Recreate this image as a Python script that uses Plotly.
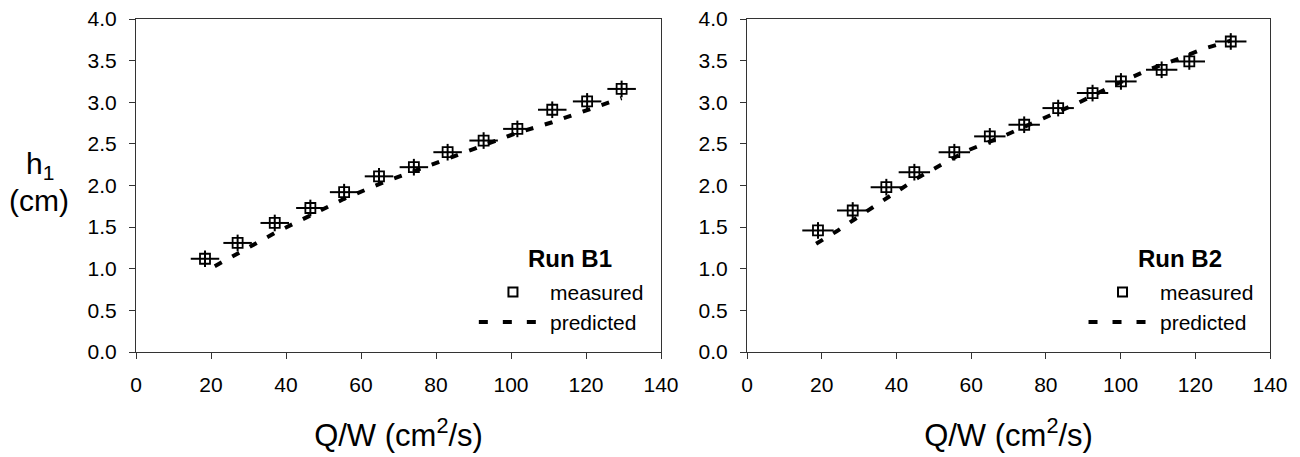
import plotly.graph_objects as go

# ---- data ----
qw_b1_meas = [18.4, 27.1, 37.0, 46.5, 55.5, 64.8, 74.1, 83.1, 92.7, 101.7, 111.0, 120.3, 129.5]
h1_b1_meas = [1.12, 1.31, 1.55, 1.73, 1.92, 2.11, 2.22, 2.40, 2.54, 2.68, 2.91, 3.01, 3.16]
qw_b1_pred = [21.0, 27.0, 37.0, 46.5, 55.5, 65.0, 74.0, 83.0, 92.5, 101.5, 111.0, 120.3, 129.5]
h1_b1_pred = [1.03, 1.18, 1.43, 1.64, 1.84, 2.02, 2.17, 2.32, 2.48, 2.63, 2.76, 2.90, 3.05]

qw_b2_meas = [19.0, 28.3, 37.3, 44.8, 55.5, 65.0, 74.2, 83.3, 92.5, 100.1, 111.0, 118.4, 129.5]
h1_b2_meas = [1.46, 1.70, 1.98, 2.16, 2.40, 2.59, 2.73, 2.93, 3.11, 3.25, 3.39, 3.49, 3.73]
qw_b2_pred = [18.5, 24.0, 30.0, 37.5, 46.0, 52.0, 59.0, 69.0, 78.0, 89.0, 98.0, 108.0, 116.0, 122.0, 129.5]
h1_b2_pred = [1.30, 1.45, 1.63, 1.85, 2.10, 2.25, 2.42, 2.60, 2.78, 3.00, 3.20, 3.40, 3.53, 3.64, 3.74]

qw_err_b1 = 3.8
qw_err_b2 = 4.2
h1_err = 0.1

run_labels = ["Run B1", "Run B2"]
x_ticks = [0, 20, 40, 60, 80, 100, 120, 140]
y_ticks = [0.0, 0.5, 1.0, 1.5, 2.0, 2.5, 3.0, 3.5, 4.0]

FONT = "Liberation Sans, Arial, Helvetica, sans-serif"
W, H = 1300, 457

fig = go.Figure()

panels = [
    ("x", "y", qw_b1_meas, h1_b1_meas, qw_b1_pred, h1_b1_pred, qw_err_b1),
    ("x2", "y2", qw_b2_meas, h1_b2_meas, qw_b2_pred, h1_b2_pred, qw_err_b2),
]
for xa, ya, xm, ym, xp, yp, xe in panels:
    fig.add_trace(go.Scatter(
        x=xp, y=yp, xaxis=xa, yaxis=ya, mode="lines",
        line=dict(color="black", width=4, dash="8px,12px"),
        showlegend=False, hoverinfo="skip"))
    fig.add_trace(go.Scatter(
        x=xm, y=ym, xaxis=xa, yaxis=ya, mode="markers",
        marker=dict(symbol="square-open", size=10, color="black",
                    line=dict(color="black", width=1.8)),
        error_x=dict(type="constant", value=xe, color="black", thickness=2, width=0),
        error_y=dict(type="constant", value=h1_err, color="black", thickness=2, width=0),
        showlegend=False))

# ---- axes ----
ydom = [(H - 352) / H, (H - 19) / H]
xdoms = [[136 / W, 661 / W], [747 / W, 1270 / W]]

axis_common = dict(
    showline=True, mirror=True, linecolor="#333", linewidth=1,
    ticks="outside", ticklen=6, tickwidth=1, tickcolor="#333",
    showgrid=False, zeroline=False, automargin=False,
    tickfont=dict(family=FONT, size=21, color="black"),
    ticklabelstandoff=8,
)

xtitle = dict(text="Q/W (cm<sup>2</sup>/s)", font=dict(family=FONT, size=31, color="black"), standoff=29)

fig.update_layout(
    xaxis=dict(domain=xdoms[0], range=[0, 140], tickvals=x_ticks, anchor="y", title=xtitle, **axis_common),
    yaxis=dict(domain=ydom, range=[0, 4], tickvals=y_ticks, tickformat=".1f", anchor="x", **axis_common),
    xaxis2=dict(domain=xdoms[1], range=[0, 140], tickvals=x_ticks, anchor="y2", title=xtitle, **axis_common),
    yaxis2=dict(domain=ydom, range=[0, 4], tickvals=y_ticks, tickformat=".1f", anchor="x2", **axis_common),
    width=W, height=H, autosize=False,
    margin=dict(l=0, r=0, t=0, b=0, pad=0),
    paper_bgcolor="white", plot_bgcolor="white",
    font=dict(family=FONT, color="black"),
    showlegend=False,
)

# ---- y-axis label (two lines) ----
fig.add_annotation(
    text="h<sub>1</sub>", xref="paper", yref="paper",
    x=40 / W, y=(H - 166) / H, xanchor="center", yanchor="middle", showarrow=False,
    font=dict(family=FONT, size=30, color="black"))
fig.add_annotation(
    text="(cm)", xref="paper", yref="paper",
    x=39 / W, y=(H - 200) / H, xanchor="center", yanchor="middle", showarrow=False,
    font=dict(family=FONT, size=30, color="black"))

# ---- manual legends ----
for i, (xa, ya) in enumerate([("x", "y"), ("x2", "y2")]):
    xr = f"{xa} domain"
    yr = f"{ya} domain"
    fig.add_annotation(text=f"<b>{run_labels[i]}</b>", xref=xr, yref=yr, x=0.827, y=0.282,
                       xanchor="center", yanchor="middle",
                       showarrow=False, font=dict(family=FONT, size=24, color="black"))
    fig.add_shape(type="rect", xref=xr, yref=yr, xsizemode="pixel", ysizemode="pixel",
                  xanchor=0.718, yanchor=0.180, x0=-4.5, x1=4.5, y0=-4.5, y1=4.5,
                  line=dict(color="black", width=2), fillcolor="white")
    fig.add_annotation(text="measured", xref=xr, yref=yr, x=0.785, y=0.180,
                       xanchor="left", yanchor="middle",
                       showarrow=False, font=dict(family=FONT, size=21, color="black"))
    fig.add_shape(type="line", xref=xr, yref=yr, x0=0.653, x1=0.766, y0=0.090, y1=0.090,
                  line=dict(color="black", width=4, dash="9px,15px"))
    fig.add_annotation(text="predicted", xref=xr, yref=yr, x=0.785, y=0.090,
                       xanchor="left", yanchor="middle",
                       showarrow=False, font=dict(family=FONT, size=21, color="black"))

fig.write_html("out.html", config={"displayModeBar": False},
               post_script="document.body.style.margin='0';document.body.style.overflow='hidden';")
